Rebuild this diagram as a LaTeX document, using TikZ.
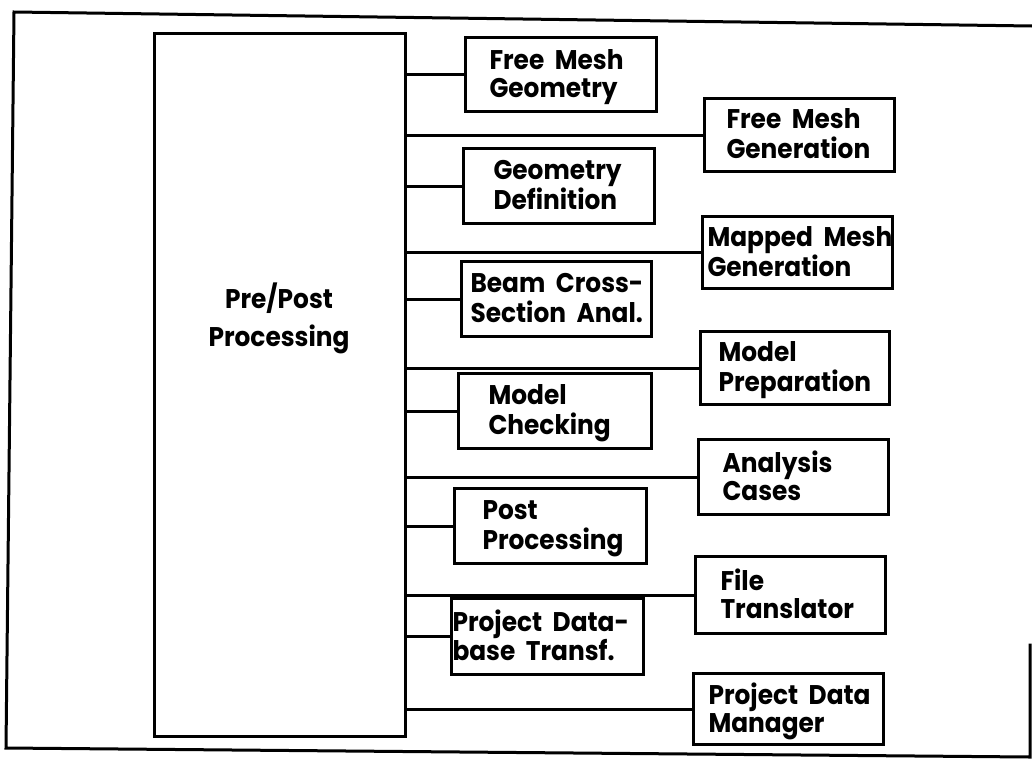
\documentclass[tikz,border=0pt]{standalone}
\usepackage{fontspec}
\setmainfont{Poppins}[FakeStretch=0.92, WordSpace=2]
\newcommand\plotfont{\fontsize{27}{28}\selectfont\bfseries}
\tikzset{
  every picture/.style={x=1pt,y=-1pt},
  frameline/.style={line width=3pt, line cap=rect, line join=miter},
  mainbox/.style={draw, line width=3pt, anchor=north west, inner sep=0pt},
  blk/.style={draw, line width=3pt, anchor=north west,
              inner ysep=0pt, font=\plotfont},
  conn/.style={line width=3pt},
}
% box: name, left, top, right, bottom, text indent, text
\newcommand\blk[7]{%
  \pgfmathsetmacro\bw{#4-#2-2*#6}\pgfmathsetmacro\bh{#5-#3}%
  \node[blk, inner xsep=#6pt, minimum height=\bh pt] (#1) at (#2,#3)
    {\makebox[\bw pt][l]{\raisebox{-3pt}[\height][\depth]{%
      \begin{tabular}{@{}l@{}}#7\end{tabular}}}};}
\begin{document}
\begin{tikzpicture}
\useasboundingbox (0,0) rectangle (1032,763);
\fill[white] (0,0) rectangle (1032,763);

% outer frame
\draw[frameline] (1032,26) -- (14,12) -- (6,748) -- (1030,757) -- (1030,645);

% central block
\node[mainbox, minimum width=251pt, minimum height=703pt] (main) at (153,32) {};
\node[font=\fontsize{27}{38}\selectfont\bfseries, align=center] (ppl) at (279,318)
  {Pre/Post\\Processing};

% inner column
\blk{fmg}{464}{36}{655}{110}{24}{Free Mesh\\Geometry}
\blk{gd}{462}{147}{653}{222}{30}{Geometry\\Definition}
\blk{bcs}{460}{260}{650}{335}{9}{Beam Cross-\\Section Anal.}
\blk{mc}{457}{372}{650}{447}{30}{Model\\Checking}
\blk{pp}{453}{487}{645}{562}{28}{Post\\Processing}
\blk{pdt}{450}{597}{642}{673}{1}{Project Data-\\base Transf.}

% outer column
\blk{fmgen}{703}{97}{893}{170}{22}{Free Mesh\\Generation}
\blk{mmg}{701}{215}{891}{287}{5}{Mapped Mesh\\Generation}
\blk{mp}{699}{330}{888}{403}{18}{Model\\Preparation}
\blk{ac}{697}{438}{887}{513}{24}{Analysis\\Cases}
\blk{ft}{694}{555}{884}{632}{25}{File\\Translator}
\blk{pdm}{692}{672}{882}{743}{15}{Project Data\\Manager}

% connectors
\foreach \b in {fmg,gd,bcs,mc,pp,pdt,fmgen,mmg,mp,ac,ft,pdm}
  \draw[conn] (main.east |- \b.west) -- (\b.west);
\end{tikzpicture}
\end{document}
